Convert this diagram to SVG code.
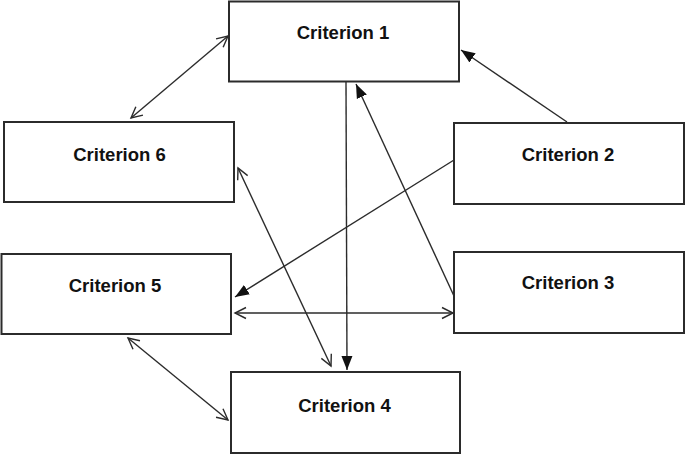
<svg xmlns="http://www.w3.org/2000/svg" width="685" height="455" viewBox="0 0 685 455">
<style>
.box{fill:#fff;stroke:#2b2b2b;stroke-width:2}
.lbl{font-family:"Liberation Sans",Arial,sans-serif;font-weight:bold;font-size:18.5px;fill:#111;text-anchor:middle}
.ln{fill:none;stroke:#2b2b2b;stroke-width:1.4}
.open{marker-start:url(#oa);marker-end:url(#oa)}
.fill{marker-end:url(#fa)}
</style>
<defs>
<marker id="fa" markerUnits="userSpaceOnUse" markerWidth="15" markerHeight="13" viewBox="0 0 15 13" refX="14" refY="6.5" orient="auto">
<path d="M0,1 L14,6.5 L0,12 Z" fill="#111"/>
</marker>
<marker id="oa" markerUnits="userSpaceOnUse" markerWidth="14" markerHeight="14" viewBox="0 0 14 14" refX="12" refY="7" orient="auto-start-reverse">
<path d="M1,1.5 L12,7 L1,12.5" fill="none" stroke="#2b2b2b" stroke-width="1.4"/>
</marker>
</defs>
<g id="node1"><rect class="box" x="229" y="1.5" width="230" height="80"/><text class="lbl" x="343" y="39">Criterion 1</text></g>
<g id="node6"><rect class="box" x="4" y="122" width="230" height="80"/><text class="lbl" x="119.5" y="161">Criterion 6</text></g>
<g id="node2"><rect class="box" x="454" y="123" width="230" height="81"/><text class="lbl" x="568" y="161">Criterion 2</text></g>
<g id="node5"><rect class="box" x="1.5" y="254" width="229.5" height="80"/><text class="lbl" x="115" y="291.5">Criterion 5</text></g>
<g id="node3"><rect class="box" x="454" y="252" width="230" height="81"/><text class="lbl" x="568" y="289">Criterion 3</text></g>
<g id="node4"><rect class="box" x="231" y="372" width="229" height="81"/><text class="lbl" x="344.5" y="412">Criterion 4</text></g>
<g id="connectors">
<line class="ln open" x1="228" y1="36" x2="131" y2="118"/>
<line class="ln fill" x1="567" y1="122" x2="461" y2="50"/>
<line class="ln fill" x1="346" y1="82" x2="347" y2="370"/>
<line class="ln fill" x1="454" y1="296" x2="356" y2="84"/>
<line class="ln fill" x1="454" y1="160" x2="235" y2="297"/>
<line class="ln open" x1="235" y1="313" x2="453" y2="313"/>
<line class="ln open" x1="238" y1="168" x2="331" y2="366"/>
<line class="ln open" x1="128" y1="338" x2="228" y2="420"/>
</g>
</svg>
